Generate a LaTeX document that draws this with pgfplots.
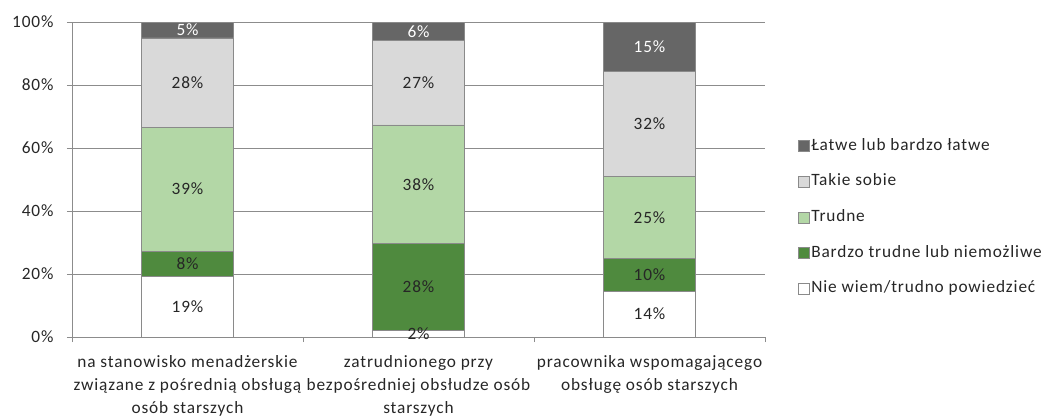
\documentclass[border=0pt]{standalone}
\usepackage{pgfplots}
\pgfplotsset{compat=1.18}
\usepackage{pgfplotstable}
\usepackage{fontspec}
\setmainfont{Carlito}[LetterSpace=5]

\definecolor{easy}{HTML}{666666}
\definecolor{soso}{HTML}{D9D9D9}
\definecolor{hard}{HTML}{B3D7A6}
\definecolor{veryhard}{HTML}{4F8A3E}
\definecolor{edge}{HTML}{8A8A8A}
\definecolor{axisgray}{HTML}{8C8C8C}
\definecolor{txt}{HTML}{262626}

% answer shares (%) per job type
\pgfplotstableread{
x nw bt tr ts le
0 19 8 39 28 5
1 2 28 38 27 6
2 14 10 25 32 15
}\shares
\pgfplotstablecreatecol[expr={\thisrow{nw}+\thisrow{bt}+\thisrow{tr}+\thisrow{ts}+\thisrow{le}}]{tot}\shares

\newcommand{\chartfont}{\fontsize{17.3}{24}\selectfont}
\newcommand{\catfont}{\fontsize{17.3}{23}\selectfont}

\pgfplotsset{
  frame/.style={
    scale only axis, width=693pt, height=315pt,
    at={(72pt,-337pt)}, anchor=south west,
    xmin=-0.5, xmax=2.5, ymin=0, ymax=100, enlargelimits=false,
  },
  sq legend/.style={legend image code/.code={
      \draw[##1, draw=edge, line width=0.6pt] (0pt,-5.5pt) rectangle (11pt,5.5pt);}},
}

\begin{document}
\begin{tikzpicture}
\useasboundingbox (0pt,0pt) rectangle (1046pt,-417pt);

\begin{axis}[frame,
  ybar stacked, bar width=92pt,
  axis x line*=bottom, axis y line*=left,
  axis line style={draw=axisgray, line width=0.9pt, -},
  ytick={0,20,...,100},
  yticklabel={\pgfmathprintnumber{\tick}\%},
  /pgf/number format/assume math mode=true,
  ymajorgrids, grid style={draw=axisgray, line width=0.9pt},
  tick align=outside, major tick length=5pt, minor tick length=5pt,
  tick style={draw=axisgray, line width=0.9pt},
  xtick={0,1,2},
  major x tick style={draw=none},
  minor xtick={-0.5,0.5,1.5,2.5},
  xticklabels={
    {na stanowisko menadżerskie\\związane z pośrednią obsługą\\osób starszych},
    {zatrudnionego przy\\bezpośredniej obsłudze osób\\starszych},
    {pracownika wspomagającego\\obsługę osób starszych}},
  xticklabel style={align=center, font=\catfont, text=txt, yshift=-10pt},
  yticklabel style={font=\chartfont, text=txt, xshift=-10pt},
  legend style={at={(1.0476,0.637)}, anchor=north west, draw=none, fill=none,
    inner sep=0pt, row sep=16.7pt, font=\chartfont, text=txt,
    nodes={inner sep=1.5pt, text height=12pt, text depth=4pt}},
  legend cell align=left,
  reverse legend,
]
\addplot[fill=white, draw=edge, line width=0.8pt, sq legend]
  table[x=x, y expr={100*\thisrow{nw}/\thisrow{tot}}] {\shares};
\addplot[fill=veryhard, draw=edge, line width=0.8pt, sq legend]
  table[x=x, y expr={100*\thisrow{bt}/\thisrow{tot}}] {\shares};
\addplot[fill=hard, draw=edge, line width=0.8pt, sq legend]
  table[x=x, y expr={100*\thisrow{tr}/\thisrow{tot}}] {\shares};
\addplot[fill=soso, draw=edge, line width=0.8pt, sq legend]
  table[x=x, y expr={100*\thisrow{ts}/\thisrow{tot}}] {\shares};
\addplot[fill=easy, draw=edge, line width=0.8pt, sq legend]
  table[x=x, y expr={100*\thisrow{le}/\thisrow{tot}}] {\shares};
\legend{Nie wiem/trudno powiedzieć, Bardzo trudne lub niemożliwe, Trudne, Takie sobie, Łatwe lub bardzo łatwe}
\end{axis}

% value labels, centred in each segment
\begin{axis}[frame, hide axis,
  point meta=explicit,
  nodes near coords={\pgfmathprintnumber{\pgfplotspointmeta}\%},
  /pgf/number format/assume math mode=true,
  every node near coord/.append style={anchor=center, inner sep=0pt, font=\chartfont},
]
\addplot[draw=none, mark=none, nodes near coords style={text=txt}]
  table[x=x, y expr={100*(0.5*\thisrow{nw})/\thisrow{tot}}, meta=nw] {\shares};
\addplot[draw=none, mark=none, nodes near coords style={text=txt}]
  table[x=x, y expr={100*(\thisrow{nw}+0.5*\thisrow{bt})/\thisrow{tot}}, meta=bt] {\shares};
\addplot[draw=none, mark=none, nodes near coords style={text=txt}]
  table[x=x, y expr={100*(\thisrow{nw}+\thisrow{bt}+0.5*\thisrow{tr})/\thisrow{tot}}, meta=tr] {\shares};
\addplot[draw=none, mark=none, nodes near coords style={text=txt}]
  table[x=x, y expr={100*(\thisrow{nw}+\thisrow{bt}+\thisrow{tr}+0.5*\thisrow{ts})/\thisrow{tot}}, meta=ts] {\shares};
\addplot[draw=none, mark=none, nodes near coords style={text=white}]
  table[x=x, y expr={100*(\thisrow{nw}+\thisrow{bt}+\thisrow{tr}+\thisrow{ts}+0.5*\thisrow{le})/\thisrow{tot}}, meta=le] {\shares};
\end{axis}
\end{tikzpicture}
\end{document}
